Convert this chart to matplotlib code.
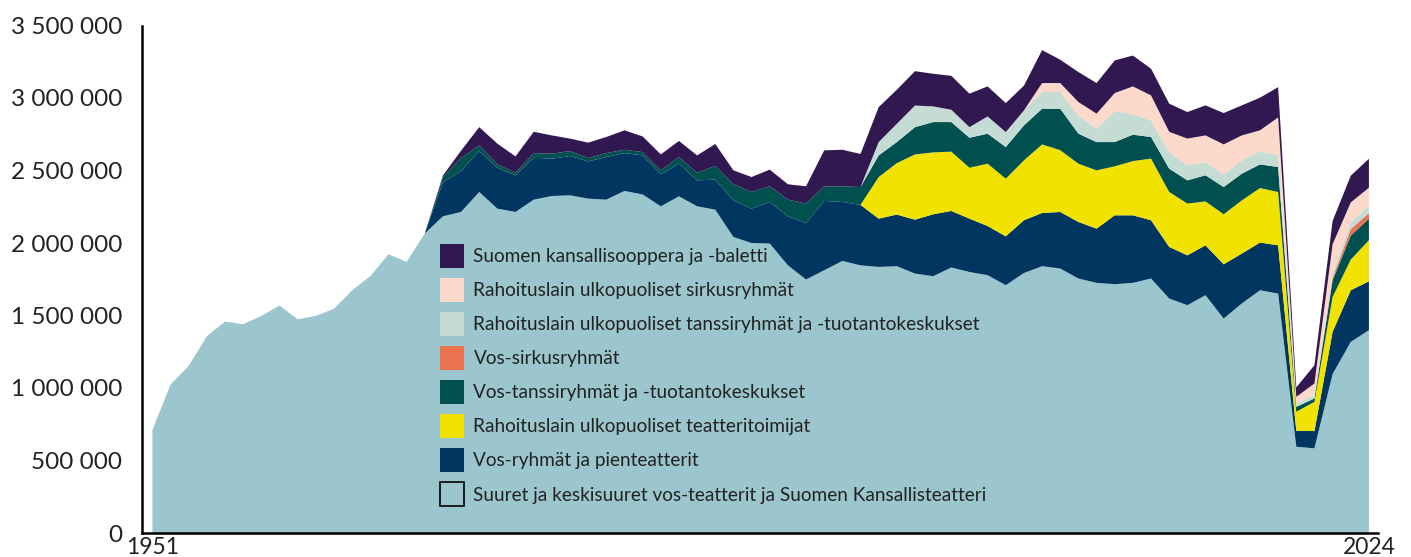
import matplotlib
matplotlib.use("Agg")
import matplotlib.pyplot as plt
import numpy as np
from matplotlib.patches import Patch
from matplotlib.ticker import FuncFormatter, FixedLocator

plt.rcParams['font.family'] = ['Lato', 'DejaVu Sans']

# ---- data (thousands of visitors), 68 reported years, 1951 ... 2024 ----
x_labels = ["1951", "2024"]

suuret = [710, 1024, 1153, 1357, 1458, 1440, 1497, 1569, 1474, 1497, 1546, 1674, 1771, 1922, 1870, 2065,
          2184, 2214, 2352, 2237, 2214, 2299, 2324, 2329, 2306, 2299, 2359, 2335, 2253, 2322, 2253, 2230,
          2041, 2000, 1996, 1846, 1748, 1812, 1876, 1846, 1835, 1840, 1789, 1771, 1831, 1800, 1778, 1709,
          1793, 1840, 1824, 1755, 1725, 1716, 1725, 1755, 1617, 1571, 1640, 1479, 1583, 1674, 1651, 595,
          584, 1096, 1318, 1399]

ryhmat = [0, 0, 0, 0, 0, 0, 0, 0, 0, 0, 0, 0, 0, 0, 0, 0,
          236, 283, 282, 282, 253, 289, 257, 271, 257, 294, 261, 269, 220, 225, 179, 207,
          253, 237, 287, 338, 390, 478, 407, 417, 333, 356, 372, 427, 390, 368, 339, 337,
          364, 367, 390, 390, 374, 475, 466, 402, 356, 344, 344, 374, 344, 329, 333, 110,
          119, 291, 356, 337]

teatteritoimijat = [0, 0, 0, 0, 0, 0, 0, 0, 0, 0, 0, 0, 0, 0, 0, 0,
                    0, 0, 0, 0, 0, 0, 0, 0, 0, 0, 0, 0, 0, 0, 0, 0,
                    0, 0, 0, 0, 0, 0, 0, 0, 287, 355, 450, 427, 409, 351, 430, 398,
                    413, 473, 426, 402, 402, 338, 374, 425, 379, 357, 303, 345, 367, 376, 368, 131,
                    202, 241, 212, 283]

tanssi_vos = [0, 0, 0, 0, 0, 0, 0, 0, 0, 0, 0, 0, 0, 0, 0, 0,
              35, 90, 39, 23, 18, 32, 35, 34, 23, 27, 23, 23, 28, 46, 51, 95,
              111, 115, 108, 115, 134, 101, 108, 123, 149, 145, 188, 209, 204, 207, 207, 218,
              241, 246, 286, 207, 195, 167, 182, 149, 161, 160, 180, 188, 184, 163, 172, 34,
              23, 115, 165, 149]

sirkus_vos = [0, 0, 0, 0, 0, 0, 0, 0, 0, 0, 0, 0, 0, 0, 0, 0,
              0, 0, 0, 0, 0, 0, 0, 0, 0, 0, 0, 0, 0, 0, 0, 0,
              0, 0, 0, 0, 0, 0, 0, 0, 0, 0, 0, 0, 0, 0, 0, 0,
              0, 0, 0, 0, 0, 0, 0, 0, 0, 0, 0, 0, 0, 0, 0, 0,
              0, 18, 45, 38]

tanssi_ulk = [0, 0, 0, 0, 0, 0, 0, 0, 0, 0, 0, 0, 0, 0, 0, 0,
              0, 0, 0, 0, 0, 0, 0, 0, 0, 0, 0, 0, 0, 0, 0, 0,
              0, 0, 0, 0, 0, 0, 0, 0, 92, 126, 149, 108, 85, 73, 119, 103,
              103, 115, 115, 126, 93, 214, 140, 115, 114, 104, 91, 87, 92, 90, 80, 23,
              23, 34, 46, 53]

sirkus_ulk = [0, 0, 0, 0, 0, 0, 0, 0, 0, 0, 0, 0, 0, 0, 0, 0,
              0, 0, 0, 0, 0, 0, 0, 0, 0, 0, 0, 0, 0, 0, 0, 0,
              0, 0, 0, 0, 0, 0, 0, 0, 0, 0, 0, 0, 0, 0, 0, 0,
              0, 62, 62, 92, 103, 124, 193, 172, 140, 184, 184, 207, 172, 145, 262, 46,
              80, 196, 138, 122]

ooppera = [0, 0, 0, 0, 0, 0, 0, 0, 0, 0, 0, 0, 0, 0, 0, 0,
           10, 50, 126, 143, 112, 147, 126, 86, 106, 111, 134, 108, 110, 111, 121, 151,
           96, 103, 115, 106, 119, 248, 252, 228, 241, 235, 237, 225, 234, 231, 207, 200,
           171, 227, 161, 207, 211, 225, 213, 184, 194, 183, 207, 216, 207, 225, 209, 65,
           126, 161, 184, 200]

labels = [
    "Suuret ja keskisuuret vos-teatterit ja Suomen Kansallisteatteri",
    "Vos-ryhmät ja pienteatterit",
    "Rahoituslain ulkopuoliset teatteritoimijat",
    "Vos-tanssiryhmät ja -tuotantokeskukset",
    "Vos-sirkusryhmät",
    "Rahoituslain ulkopuoliset tanssiryhmät ja -tuotantokeskukset",
    "Rahoituslain ulkopuoliset sirkusryhmät",
    "Suomen kansallisooppera ja -baletti",
]
colors = ["#9bc6cd", "#003660", "#f2e200", "#00504f", "#e8734e", "#c4dcd3", "#fcd9cb", "#311850"]

series = [suuret, ryhmat, teatteritoimijat, tanssi_vos, sirkus_vos, tanssi_ulk, sirkus_ulk, ooppera]
series = [np.array(s, dtype=float) * 1000 for s in series]
x = np.arange(len(suuret))

W, H = 1411, 557
fig = plt.figure(figsize=(W / 100, H / 100), dpi=100)
ax = fig.add_axes([141.5 / W, (H - 533) / H, (1378 - 141.5) / W, (533 - 25.5) / H])

ax.stackplot(x, *series, colors=colors, linewidth=0)

ax.set_xlim(-0.6, len(x) - 0.5)
ax.set_ylim(0, 3500000)

ax.yaxis.set_major_locator(FixedLocator(np.arange(0, 3500001, 500000)))
ax.yaxis.set_major_formatter(FuncFormatter(lambda v, p: f"{int(v):,}".replace(",", " ")))
ax.set_xticks([0, len(x) - 1])
ax.set_xticklabels(x_labels)

ax.tick_params(axis='y', length=0, pad=14, labelsize=17.5, labelcolor="#222222")
ax.tick_params(axis='x', length=0, pad=3, labelsize=16.5, labelcolor="#222222")

for s in ["top", "right"]:
    ax.spines[s].set_visible(False)
for s in ["left", "bottom"]:
    ax.spines[s].set_linewidth(1.8)
    ax.spines[s].set_color("black")

handles = []
for lab, col in zip(labels, colors):
    if lab.startswith("Suuret"):
        handles.append(Patch(facecolor=col, edgecolor="black", linewidth=1.2, label=lab))
    else:
        handles.append(Patch(facecolor=col, edgecolor="none", label=lab))
handles = handles[::-1]

leg = fig.legend(handles=handles, loc="upper left",
                 bbox_to_anchor=(440 / W, 1 - 244 / H), bbox_transform=fig.transFigure,
                 frameon=False, borderpad=0, borderaxespad=0, fontsize=13.7,
                 handlelength=1.26, handleheight=1.56, handletextpad=0.5,
                 labelspacing=0.53)
for t in leg.get_texts():
    t.set_color("#222222")

fig.savefig("out.png", dpi=100)
